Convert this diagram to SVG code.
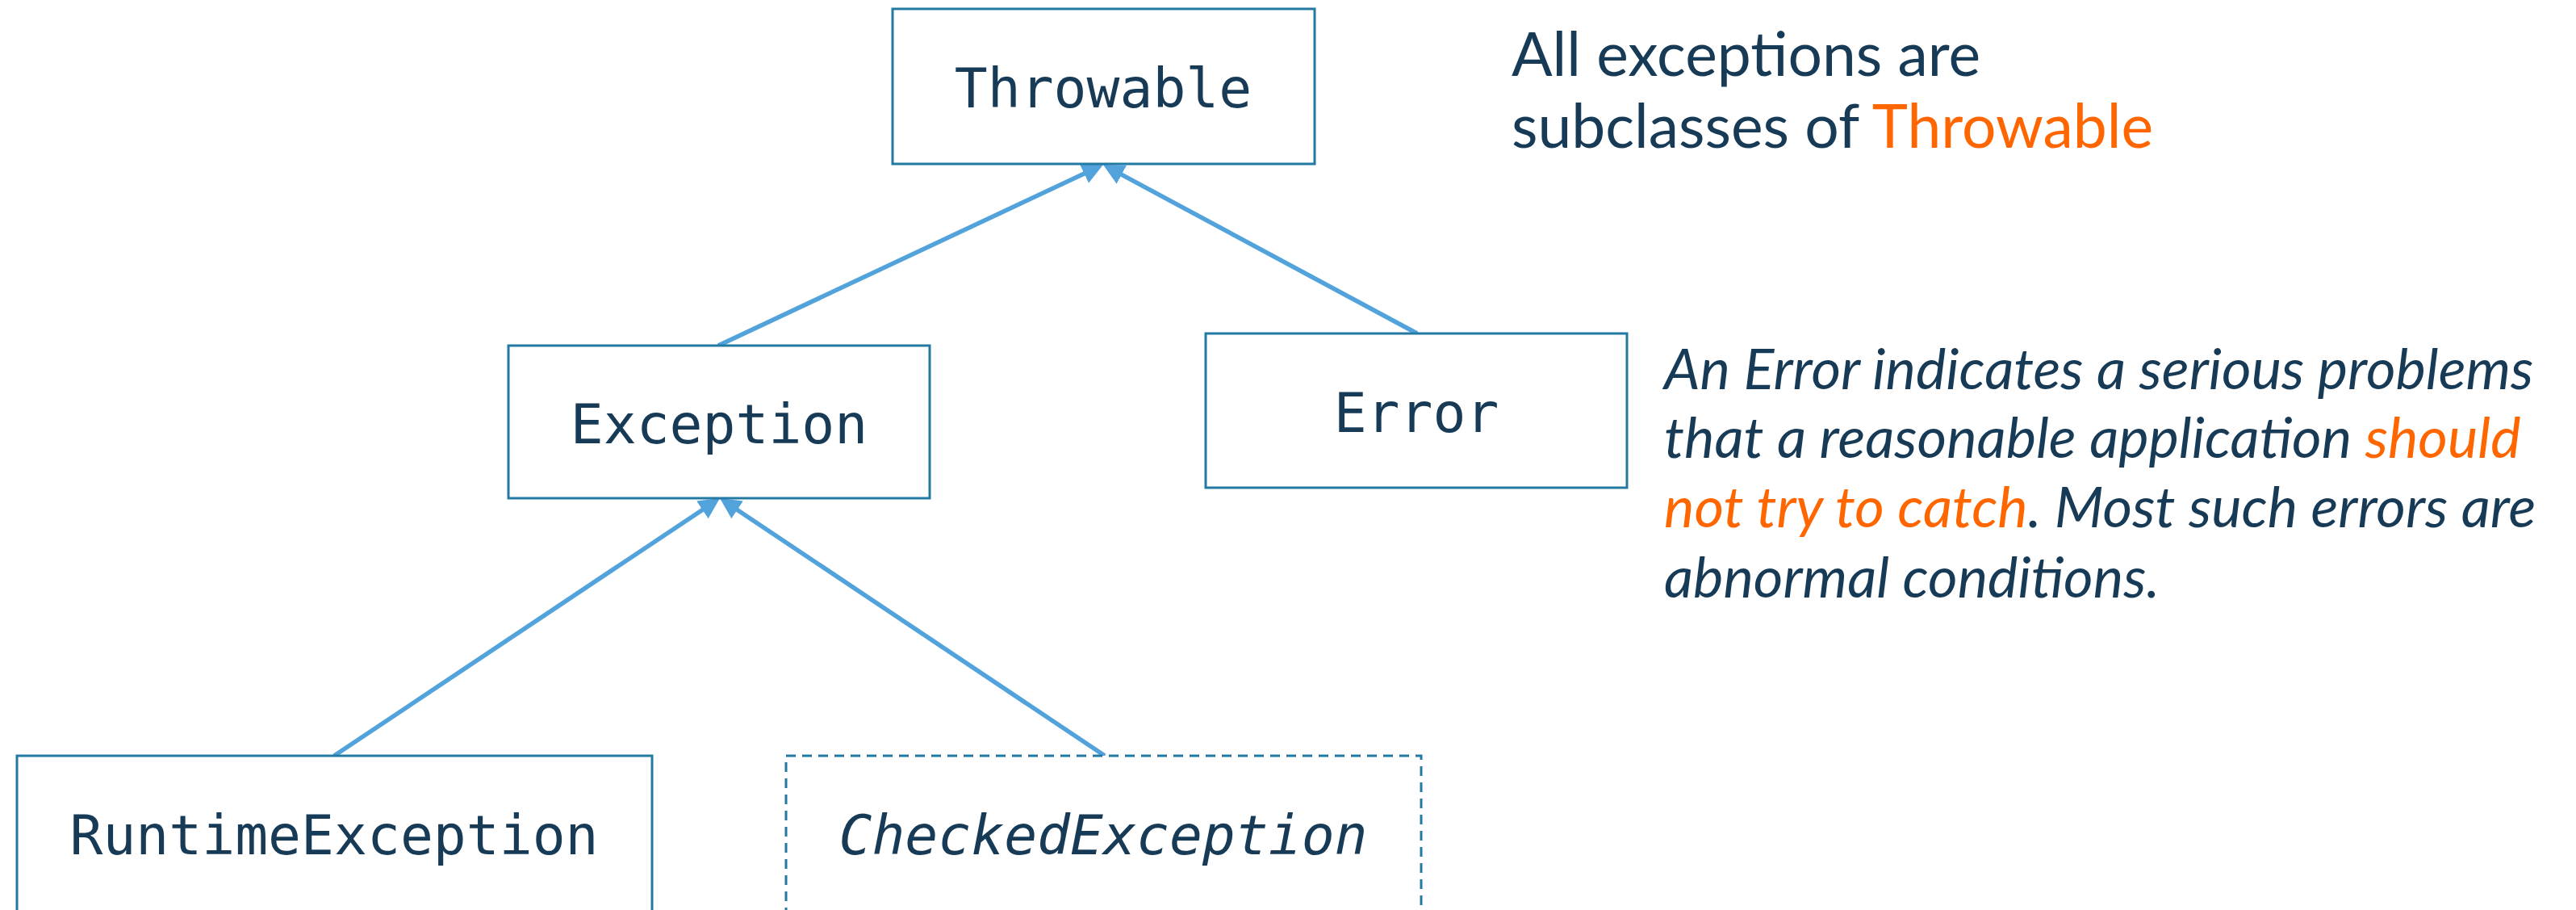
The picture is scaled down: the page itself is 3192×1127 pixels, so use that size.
<svg xmlns="http://www.w3.org/2000/svg" width="3192" height="1127" viewBox="0 0 3192 1127">
  <style>
    .box { fill: #ffffff; stroke: #2279a2; stroke-width: 3; }
    .dashed { stroke-dasharray: 12 8; }
    .lbl { font-family: "DejaVu Sans Mono", "Liberation Mono", monospace; font-size: 68px; fill: #173b56; text-anchor: middle; }
    .ital { font-style: italic; }
    .conn { stroke: #52a3db; stroke-width: 5.5; fill: none; marker-end: url(#arrow); }
    .note { font-family: Lato, "Noto Sans", sans-serif; fill: #173b56; }
    .hl { fill: #ff6600; }
  </style>
  <defs>
    <marker id="arrow" markerUnits="userSpaceOnUse" markerWidth="28" markerHeight="28" refX="13" refY="13" orient="auto">
      <path d="M0,0 L26,13 L0,26 Z" fill="#52a3db"/>
    </marker>
  </defs>
  <rect width="3192" height="1127" fill="#ffffff"/>

  <g id="connectors">
    <line class="conn" x1="890" y1="428" x2="1355.2" y2="209.5"/>
    <line class="conn" x1="1756" y1="413" x2="1378.4" y2="210.1"/>
    <line class="conn" x1="414" y1="936" x2="881.2" y2="624.2"/>
    <line class="conn" x1="1369" y1="936" x2="902.8" y2="624.2"/>
  </g>

  <g id="throwable">
    <rect class="box" x="1106" y="11" width="523" height="192"/>
    <text class="lbl" x="1367" y="133">Throwable</text>
  </g>
  <g id="exception">
    <rect class="box" x="630" y="428" width="522" height="189"/>
    <text class="lbl" x="891" y="549">Exception</text>
  </g>
  <g id="error">
    <rect class="box" x="1494" y="413" width="522" height="191"/>
    <text class="lbl" x="1755" y="535">Error</text>
  </g>
  <g id="runtime-exception">
    <rect class="box" x="21" y="936" width="787" height="193"/>
    <text class="lbl" x="414" y="1058">RuntimeException</text>
  </g>
  <g id="checked-exception">
    <rect class="box dashed" x="974" y="936" width="787" height="193"/>
    <text class="lbl ital" x="1367" y="1058">CheckedException</text>
  </g>

  <g id="note-throwable">
    <text class="note" x="1873" y="94" font-size="75">All exceptions are</text>
    <text class="note" x="1873" y="183" font-size="75">subclasses of <tspan class="hl">Throwable</tspan></text>
  </g>
  <g id="note-error" font-style="italic" font-size="70.6">
    <text class="note" x="2062" y="482">An Error indicates a serious problems</text>
    <text class="note" x="2062" y="567">that a reasonable application <tspan class="hl">should</tspan></text>
    <text class="note" x="2062" y="653"><tspan class="hl">not try to catch</tspan>. Most such errors are</text>
    <text class="note" x="2062" y="740">abnormal conditions.</text>
  </g>
</svg>
